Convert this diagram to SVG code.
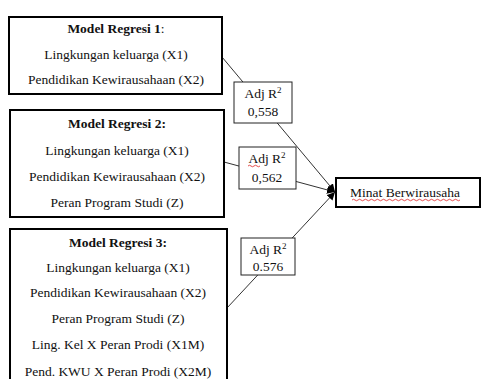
<svg xmlns="http://www.w3.org/2000/svg" width="481" height="379" viewBox="0 0 481 379">
<style>
.main{fill:#fff;stroke:#000;stroke-width:2}
.adj{fill:#fff;stroke:#222;stroke-width:1}
.t{font-family:'Liberation Serif','Times New Roman',serif;font-size:13.5px;fill:#111;text-anchor:middle}
.b{font-weight:bold}
.c{stroke:#333;stroke-width:1;fill:none}
.sq{stroke:#d22;stroke-width:0.8;fill:none}
</style>
<defs>
<marker id="ah" viewBox="0 0 10 10" refX="10" refY="5" markerWidth="8" markerHeight="8" orient="auto" markerUnits="userSpaceOnUse">
<path d="M0,0 L10,5 L0,10 Z" fill="#000"/>
</marker>
</defs>
<rect width="481" height="379" fill="#fff"/>
<g id="connectors">
<line class="c" x1="222" y1="57" x2="335" y2="192" marker-end="url(#ah)"/>
<line class="c" x1="224" y1="162" x2="335" y2="192" marker-end="url(#ah)"/>
<line class="c" x1="227" y1="308" x2="335" y2="192" marker-end="url(#ah)"/>
</g>
<g id="model1">
<rect class="main" x="9" y="17" width="213" height="77"/>
<text class="t b" x="116" y="33">Model Regresi 1<tspan font-weight="normal">:</tspan></text>
<text class="t" x="116" y="59">Lingkungan keluarga (X1)</text>
<text class="t" x="116" y="84">Pendidikan Kewirausahaan (X2)</text>
</g>
<g id="model2">
<rect class="main" x="10" y="110" width="214" height="107"/>
<text class="t b" x="117" y="128">Model Regresi 2:</text>
<text class="t" x="117" y="155">Lingkungan keluarga (X1)</text>
<text class="t" x="117" y="181">Pendidikan Kewirausahaan (X2)</text>
<text class="t" x="117" y="207">Peran Program Studi (Z)</text>
</g>
<g id="model3">
<rect class="main" x="10" y="229" width="217" height="160"/>
<text class="t b" x="118" y="247">Model Regresi 3:</text>
<text class="t" x="118" y="272">Lingkungan keluarga (X1)</text>
<text class="t" x="118" y="297">Pendidikan Kewirausahaan (X2)</text>
<text class="t" x="118" y="323">Peran Program Studi (Z)</text>
<text class="t" x="118" y="349">Ling. Kel X Peran Prodi (X1M)</text>
<text class="t" x="118" y="376">Pend. KWU X Peran Prodi (X2M)</text>
</g>
<g id="adj1">
<rect class="adj" x="234" y="82" width="58" height="41"/>
<text class="t" x="263" y="98">Adj R<tspan dy="-5" font-size="9">2</tspan></text>
<text class="t" x="263" y="116">0,558</text>
</g>
<g id="adj2">
<rect class="adj" x="239" y="147" width="57" height="42"/>
<text class="t" x="267" y="163">Adj R<tspan dy="-5" font-size="9">2</tspan></text>
<text class="t" x="267" y="182">0,562</text>
<path class="sq" d="M248,166 q1.5,-1.5 3,0 t3,0 t3,0 t3,0"/>
</g>
<g id="adj3">
<rect class="adj" x="241" y="238" width="54" height="37"/>
<text class="t" x="268" y="254">Adj R<tspan dy="-5" font-size="9">2</tspan></text>
<text class="t" x="268" y="271">0.576</text>
</g>
<g id="minat">
<rect class="main" x="336" y="178" width="144" height="29"/>
<text class="t" x="405" y="197">Minat Berwirausaha</text>
<path class="sq" d="M352,200 q1.5,-1.5 3,0 t3,0 t3,0 t3,0 t3,0 t3,0 t3,0 t3,0 t3,0 t3,0 t3,0 t3,0 t3,0 t3,0 t3,0 t3,0 t3,0 t3,0 t3,0 t3,0 t3,0 t3,0 t3,0 t3,0 t3,0 t3,0 t3,0 t3,0 t3,0 t3,0 t3,0 t3,0 t3,0 t3,0 t3,0 t3,0"/>
</g>
</svg>
